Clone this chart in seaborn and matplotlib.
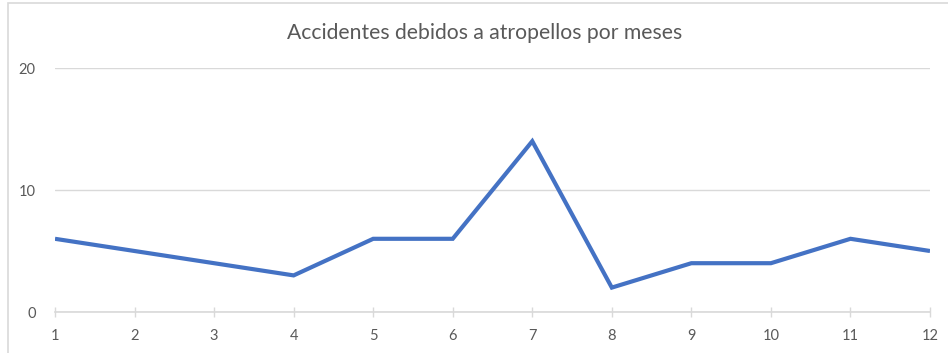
import matplotlib
matplotlib.use("Agg")
import matplotlib.pyplot as plt
from matplotlib.patches import Rectangle
import seaborn as sns
import pandas as pd

months = [1, 2, 3, 4, 5, 6, 7, 8, 9, 10, 11, 12]
accidents = [6, 5, 4, 3, 6, 6, 14, 2, 4, 4, 6, 5]
y_ticks = [0, 10, 20]
title = "Accidentes debidos a atropellos por meses"

sns.set_theme(style="white")
plt.rcParams["font.family"] = ["Lato", "DejaVu Sans"]

text_color = "#595959"
grid_color = "#d9d9d9"
line_color = "#4472c4"

df = pd.DataFrame({"mes": months, "accidentes": accidents})

fig = plt.figure(figsize=(9.48, 3.53), dpi=100)
ax = fig.add_axes([55 / 948, 41 / 353, 875 / 948, 244 / 353])

sns.lineplot(data=df, x="mes", y="accidentes", ax=ax, color=line_color,
             linewidth=3.0, solid_capstyle="butt", solid_joinstyle="miter")

ax.set_xlim(1, 12)
ax.set_ylim(0, 20)
ax.set_xticks(months)
ax.set_xticklabels([str(m) for m in months])
ax.set_yticks(y_ticks)
ax.set_xlabel("")
ax.set_ylabel("")

ax.yaxis.grid(True, color=grid_color, linewidth=1)
ax.set_axisbelow(True)
for side in ["top", "right", "left"]:
    ax.spines[side].set_visible(False)
ax.spines["bottom"].set_color(grid_color)
ax.spines["bottom"].set_linewidth(1.2)
ax.spines["bottom"].set_zorder(0.5)

ax.tick_params(axis="x", direction="inout", length=7, width=1, color=grid_color,
               labelsize=10.5, labelcolor=text_color, pad=9, bottom=True)
ax.tick_params(axis="y", length=0, labelsize=10.5, labelcolor=text_color, pad=14)
for lbl in ax.get_xticklabels() + ax.get_yticklabels():
    lbl.set_clip_on(False)

fig.text(485 / 948, 1 - 33 / 353, title, ha="center", va="center",
         fontsize=15.2, color=text_color)

# chart-area border
fig.patches.append(Rectangle((8 / 948, -0.1), 1.2, (353 - 3) / 353 + 0.1,
                             transform=fig.transFigure, fill=False,
                             edgecolor=grid_color, linewidth=1.2))

fig.savefig("out.png", dpi=100)
